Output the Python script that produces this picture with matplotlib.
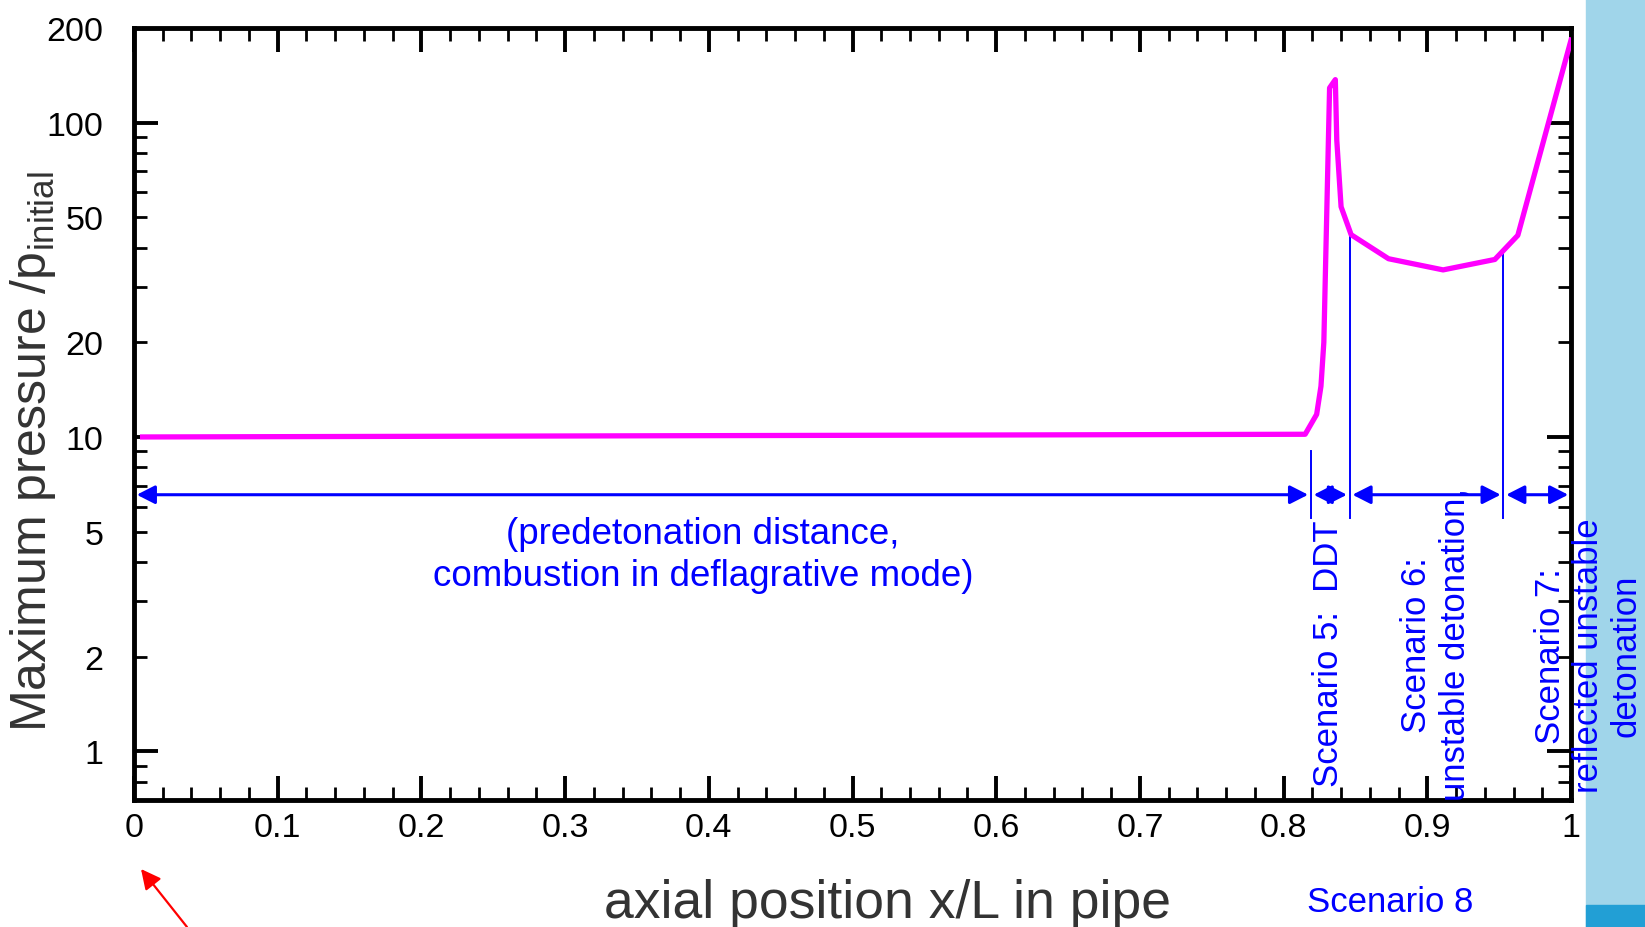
import matplotlib
matplotlib.use("Agg")
import matplotlib.pyplot as plt
from matplotlib.patches import Rectangle
from matplotlib.ticker import FixedLocator, FuncFormatter, LogLocator, MultipleLocator

plt.rcParams["font.family"] = ["Liberation Sans", "DejaVu Sans"]

# maximum pressure along the pipe
x_pos = [0.006, 0.815, 0.823, 0.826, 0.828, 0.832, 0.836, 0.837, 0.840, 0.847,
         0.873, 0.911, 0.947, 0.963, 1.0]
p_max = [10.0, 10.2, 11.8, 14.5, 20.0, 129.0, 137.0, 88.0, 54.0, 44.0,
         36.9, 34.0, 36.7, 43.8, 183.0]

# combustion zones along x/L
zone_edges = [0.0, 0.819, 0.846, 0.953, 1.0]
divider_x = [0.819, 0.846, 0.953]
divider_top = [9.0, 44.7, 38.1]
divider_bottom = 5.53
arrow_level = 6.55

x_major = [0, 0.1, 0.2, 0.3, 0.4, 0.5, 0.6, 0.7, 0.8, 0.9, 1.0]
x_labels = ["0", "0.1", "0.2", "0.3", "0.4", "0.5", "0.6", "0.7", "0.8", "0.9", "1"]
y_major = [1, 10, 100]
y_minor_labelled = [2, 5, 20, 50, 200]

BLUE = "#0000ff"
GREY = "#333333"


def minor_fmt(v, pos):
    for t in y_minor_labelled:
        if abs(v - t) / t < 1e-6:
            return "%g" % t
    return ""


fig = plt.figure(figsize=(16.45, 9.28), dpi=100)
ax = fig.add_axes([134 / 1645, 127 / 928, 1437 / 1645, 772 / 928])

ax.plot(x_pos, p_max, color="#ff00ff", lw=3.8, solid_joinstyle="round", zorder=5)

# zone dividers and span arrows
for xd, top in zip(divider_x, divider_top):
    ax.plot([xd, xd], [divider_bottom, top], color=BLUE, lw=1.4)
for a, b in zip(zone_edges[:-1], zone_edges[1:]):
    ax.annotate("", xy=(b, arrow_level), xytext=(a, arrow_level),
                arrowprops=dict(arrowstyle="<|-|>,head_length=0.55,head_width=0.28",
                                color=BLUE, lw=2.2, shrinkA=2, shrinkB=2,
                                mutation_scale=20))

ax.text(0.396, 4.22, "(predetonation distance,\ncombustion in deflagrative mode)",
        color=BLUE, fontsize=26.5, ha="center", va="center", linespacing=1.25)
ax.text(0.831, 0.774, "Scenario 5:  DDT", color=BLUE, fontsize=25,
        rotation=90, ha="center", va="bottom")
ax.text(0.906, 2.2, "Scenario 6:\nunstable detonation,", color=BLUE, fontsize=25,
        rotation=90, ha="center", va="center", multialignment="center")
ax.text(1.012, 2.03, "Scenario 7:\nreflected unstable\ndetonation", color=BLUE,
        fontsize=25, rotation=90, ha="center", va="center", multialignment="center",
        clip_on=False)

ax.set_yscale("log")
ax.set_xlim(0, 1)
ax.set_ylim(0.7, 200)

ax.xaxis.set_major_locator(FixedLocator(x_major))
ax.set_xticklabels(x_labels)
ax.xaxis.set_minor_locator(MultipleLocator(0.02))
ax.yaxis.set_major_locator(FixedLocator(y_major))
ax.yaxis.set_major_formatter(FuncFormatter(lambda v, p: "%g" % v))
ax.yaxis.set_minor_locator(LogLocator(base=10, subs=range(2, 10)))
ax.yaxis.set_minor_formatter(FuncFormatter(minor_fmt))

ax.tick_params(which="both", direction="in", top=True, right=True, labelsize=24.5,
               colors="black")
ax.tick_params(which="major", length=17, width=2.8)
ax.tick_params(which="minor", length=9.5, width=2)
ax.tick_params(axis="x", which="both", pad=9)
ax.tick_params(axis="y", which="both", pad=22)
for s in ax.spines.values():
    s.set_linewidth(3.5)

ax.set_xlabel("axial position x/L in pipe", fontsize=38.5, color=GREY)
ax.xaxis.label.set_va("baseline")
ax.xaxis.set_label_coords((888 - 134) / 1437, (801 - 918) / 772)
ax.set_ylabel(r"Maximum pressure /p$_{\mathregular{initial}}$", fontsize=36, color=GREY)
ax.yaxis.label.set(rotation_mode="default", ha="left", va="center")
ax.yaxis.set_label_coords((8 - 134) / 1437, (801 - 452) / 772)

# side band on the right edge
fig.patches.append(Rectangle((1586 / 1645, 0), 1, 1, transform=fig.transFigure,
                             color="#a0d5ea", zorder=-1))
fig.patches.append(Rectangle((1586 / 1645, 0), 1, 22 / 928, transform=fig.transFigure,
                             color="#229fd5", zorder=-1))

fig.text(1390 / 1645, 1 - 903 / 928, "Scenario 8", color=BLUE, fontsize=25,
         ha="center", va="center")

fig.add_artist(plt.Annotation("", xy=(141 / 1645, 1 - 870 / 928),
                              xytext=(187 / 1645, 0), xycoords="figure fraction",
                              arrowprops=dict(arrowstyle="-|>,head_length=0.6,head_width=0.3",
                                              color="#ff0000", lw=1.6, shrinkA=0,
                                              shrinkB=0, mutation_scale=20)))

fig.savefig("out.png", dpi=100)
